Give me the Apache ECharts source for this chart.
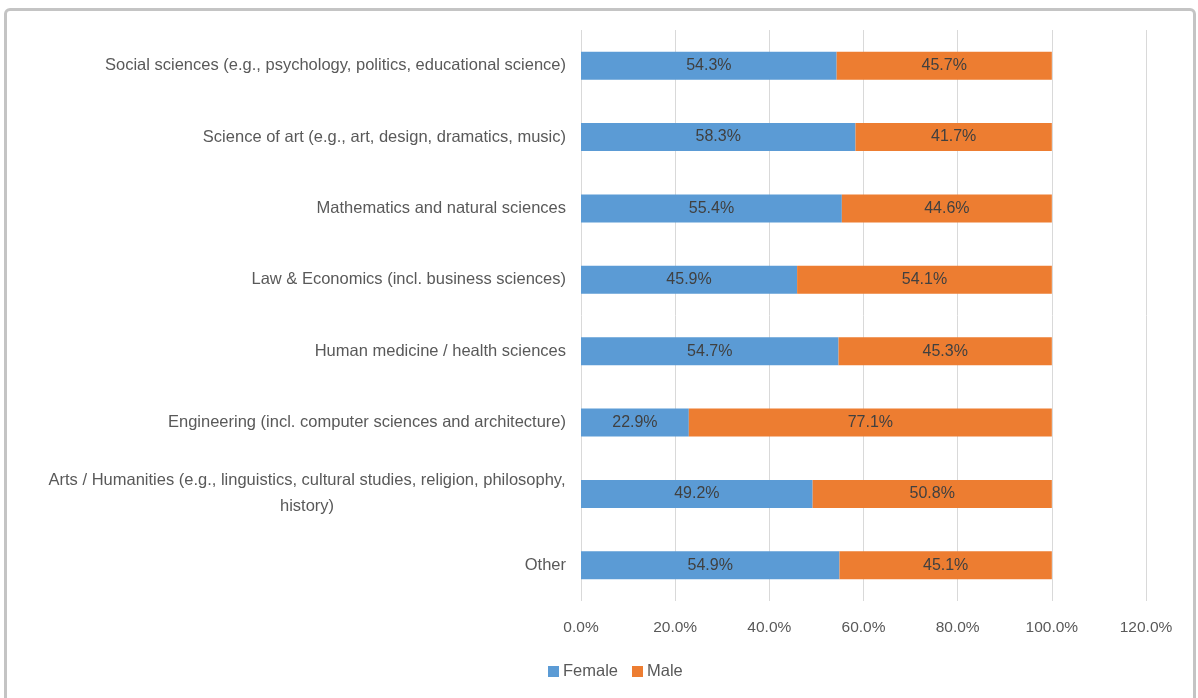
<!DOCTYPE html>
<html>
<head>
<meta charset="utf-8">
<script src="https://cdn.jsdelivr.net/npm/echarts@6/dist/echarts.min.js"></script>
<style>
html,body{margin:0;padding:0;background:#fff;overflow:hidden;}
#frame{position:absolute;left:4px;top:8px;width:1192px;height:720px;border:3px solid #c4c4c4;border-radius:6px;box-sizing:border-box;}
#chart{position:absolute;left:0;top:0;width:1198px;height:698px;}
</style>
</head>
<body>
<div id="frame"></div>
<div id="chart"></div>
<script>
const categories = [
  "Social sciences (e.g., psychology, politics, educational science)",
  "Science of art (e.g., art, design, dramatics, music)",
  "Mathematics and natural sciences",
  "Law & Economics (incl. business sciences)",
  "Human medicine / health sciences",
  "Engineering (incl. computer sciences and architecture)",
  "Arts / Humanities (e.g., linguistics, cultural studies, religion, philosophy,\nhistory)",
  "Other"
];
const female = [54.3, 58.3, 55.4, 45.9, 54.7, 22.9, 49.2, 54.9];
const male = [45.7, 41.7, 44.6, 54.1, 45.3, 77.1, 50.8, 45.1];
const xTicks = [0, 20, 40, 60, 80, 100, 120];

const font = "'Liberation Sans', Arial, sans-serif";
const chart = echarts.init(document.getElementById('chart'));
const lbl = {
  show: true, position: 'inside', color: '#404040', fontSize: 16, fontFamily: font,
  formatter: p => p.value.toFixed(1) + '%'
};
chart.setOption({
  animation: false,
  textStyle: {fontFamily: font},
  grid: {left: 581, right: 52, top: 30, bottom: 97, containLabel: false},
  legend: {
    bottom: 13, left: 543, itemWidth: 11, itemHeight: 11, itemGap: 14,
    icon: 'rect',
    textStyle: {color: '#595959', fontSize: 16.5, fontFamily: font, padding: [0, 0, 0, -1]},
    data: ['Female', 'Male']
  },
  xAxis: {
    type: 'value', min: xTicks[0], max: xTicks[xTicks.length - 1], interval: 20,
    axisLine: {show: false}, axisTick: {show: false},
    splitLine: {lineStyle: {color: '#d9d9d9', width: 1}},
    axisLabel: {color: '#595959', fontSize: 15.5, fontFamily: font, margin: 19,
      formatter: v => v.toFixed(1) + '%'}
  },
  yAxis: {
    type: 'category', inverse: true, data: categories,
    axisLine: {show: false}, axisTick: {show: false},
    axisLabel: {color: '#595959', fontSize: 16.5, fontFamily: font, margin: 15,
      lineHeight: 26, align: 'right',
      formatter: v => v.indexOf('\n') >= 0 ? v.split('\n').map(s => '{c|' + s + '}').join('\n') : v,
      rich: {c: {width: 518, align: 'center', fontSize: 16.5, lineHeight: 26, color: '#595959', fontFamily: font}}}
  },
  series: [
    {name: 'Female', type: 'bar', stack: 'total', data: female, barWidth: 28,
     itemStyle: {color: '#5B9BD5'}, label: lbl},
    {name: 'Male', type: 'bar', stack: 'total', data: male, barWidth: 28,
     itemStyle: {color: '#ED7D31'}, label: lbl}
  ]
});
</script>
</body>
</html>
